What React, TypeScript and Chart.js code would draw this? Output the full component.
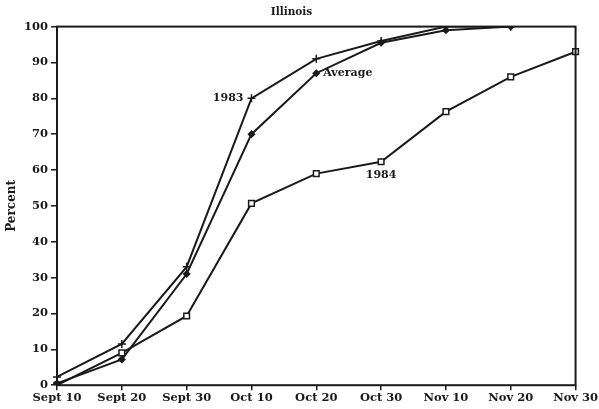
import React, { useEffect, useRef } from "react";
import { Chart, registerables } from "chart.js";
Chart.register(...registerables);

const categories = ["Sept 10", "Sept 20", "Sept 30", "Oct 10", "Oct 20", "Oct 30", "Nov 10", "Nov 20", "Nov 30"];
const values1983 = [2.3, 11.5, 33, 80, 91, 96, 100, 100, null];
const valuesAverage = [0.5, 7.2, 31, 70, 87, 95.5, 99, 100, null];
const values1984 = [0, 9, 19.3, 50.7, 59, 62.3, 76.3, 86, 93];
const yTicks = [0, 10, 20, 30, 40, 50, 60, 70, 80, 90, 100];
const seriesLabels = ["1983", "Average", "1984"];

const FONT = "'DejaVu Serif', serif";
const INK = "#1a1a1a";

const framePlugin = {
  id: "frame",
  afterDatasetsDraw(chart: any) {
    const { ctx, chartArea: a } = chart;
    ctx.save();
    ctx.strokeStyle = INK;
    ctx.lineWidth = 2;
    ctx.strokeRect(a.left, a.top, a.right - a.left, a.bottom - a.top);
    ctx.restore();
  },
};

const labelPlugin = {
  id: "seriesLabels",
  afterDatasetsDraw(chart: any) {
    const { ctx } = chart;
    const specs = [
      { ds: 0, idx: 3, dx: -8, dy: 0, align: "right", base: "middle" },
      { ds: 1, idx: 4, dx: 7, dy: 0, align: "left", base: "middle" },
      { ds: 2, idx: 5, dx: 0, dy: 8, align: "center", base: "top" },
    ];
    ctx.save();
    ctx.fillStyle = INK;
    ctx.font = `bold 11px ${FONT}`;
    specs.forEach((s) => {
      const el = chart.getDatasetMeta(s.ds).data[s.idx];
      ctx.textAlign = s.align;
      ctx.textBaseline = s.base;
      ctx.fillText(chart.data.datasets[s.ds].label, el.x + s.dx, el.y + s.dy);
    });
    ctx.restore();
  },
};

export default function App() {
  const ref = useRef<HTMLCanvasElement>(null);
  useEffect(() => {
    const common = {
      borderColor: INK,
      borderWidth: 2,
      tension: 0,
      pointBorderColor: INK,
      pointBorderWidth: 1.5,
    };
    const chart = new Chart(ref.current!, {
      type: "line",
      data: {
        labels: categories,
        datasets: [
          { ...common, label: seriesLabels[0], data: values1983, pointStyle: "cross", pointRadius: 4, pointBackgroundColor: INK },
          { ...common, label: seriesLabels[1], data: valuesAverage, pointStyle: "rectRot", pointRadius: 3, pointBackgroundColor: INK },
          { ...common, label: seriesLabels[2], data: values1984, pointStyle: "rect", pointRadius: 4, pointBackgroundColor: "#fff" },
        ],
      },
      options: {
        animation: false,
        responsive: false,
        devicePixelRatio: 1,
        layout: { padding: { top: 3, right: 20, left: 4, bottom: 3 } },
        plugins: {
          legend: { display: false },
          tooltip: { enabled: false },
          title: {
            display: true,
            text: "Illinois",
            color: INK,
            font: { family: FONT, size: 10.5, weight: "bold" },
            padding: { top: 3, bottom: 8 },
          },
        },
        scales: {
          x: {
            type: "category",
            offset: false,
            grid: { display: true, drawOnChartArea: false, drawTicks: true, tickLength: 5, color: INK, lineWidth: 1.5 },
            border: { display: false },
            ticks: { color: INK, font: { family: FONT, size: 11.5, weight: "bold" }, maxRotation: 0, autoSkip: false, padding: 1 },
          },
          y: {
            min: 0,
            max: 100,
            afterBuildTicks: (s: any) => { s.ticks = yTicks.map((v) => ({ value: v })); },
            grid: { display: true, drawOnChartArea: false, drawTicks: true, tickLength: 6, color: INK, lineWidth: 1.5 },
            border: { display: false },
            ticks: { color: INK, font: { family: FONT, size: 11.5, weight: "bold" }, padding: 3 },
            title: { display: true, text: "Percent", color: INK, font: { family: FONT, size: 12, weight: "bold" }, padding: 1 },
            afterFit: (s: any) => { s.width = 53; },
          },
        },
      },
      plugins: [framePlugin, labelPlugin],
    });
    return () => chart.destroy();
  }, []);
  return (
    <div style={{ position: "fixed", left: 0, top: 0, width: 599, height: 409, background: "#fff" }}>
      <canvas ref={ref} width={599} height={409} style={{ width: 599, height: 409 }} />
    </div>
  );
}
